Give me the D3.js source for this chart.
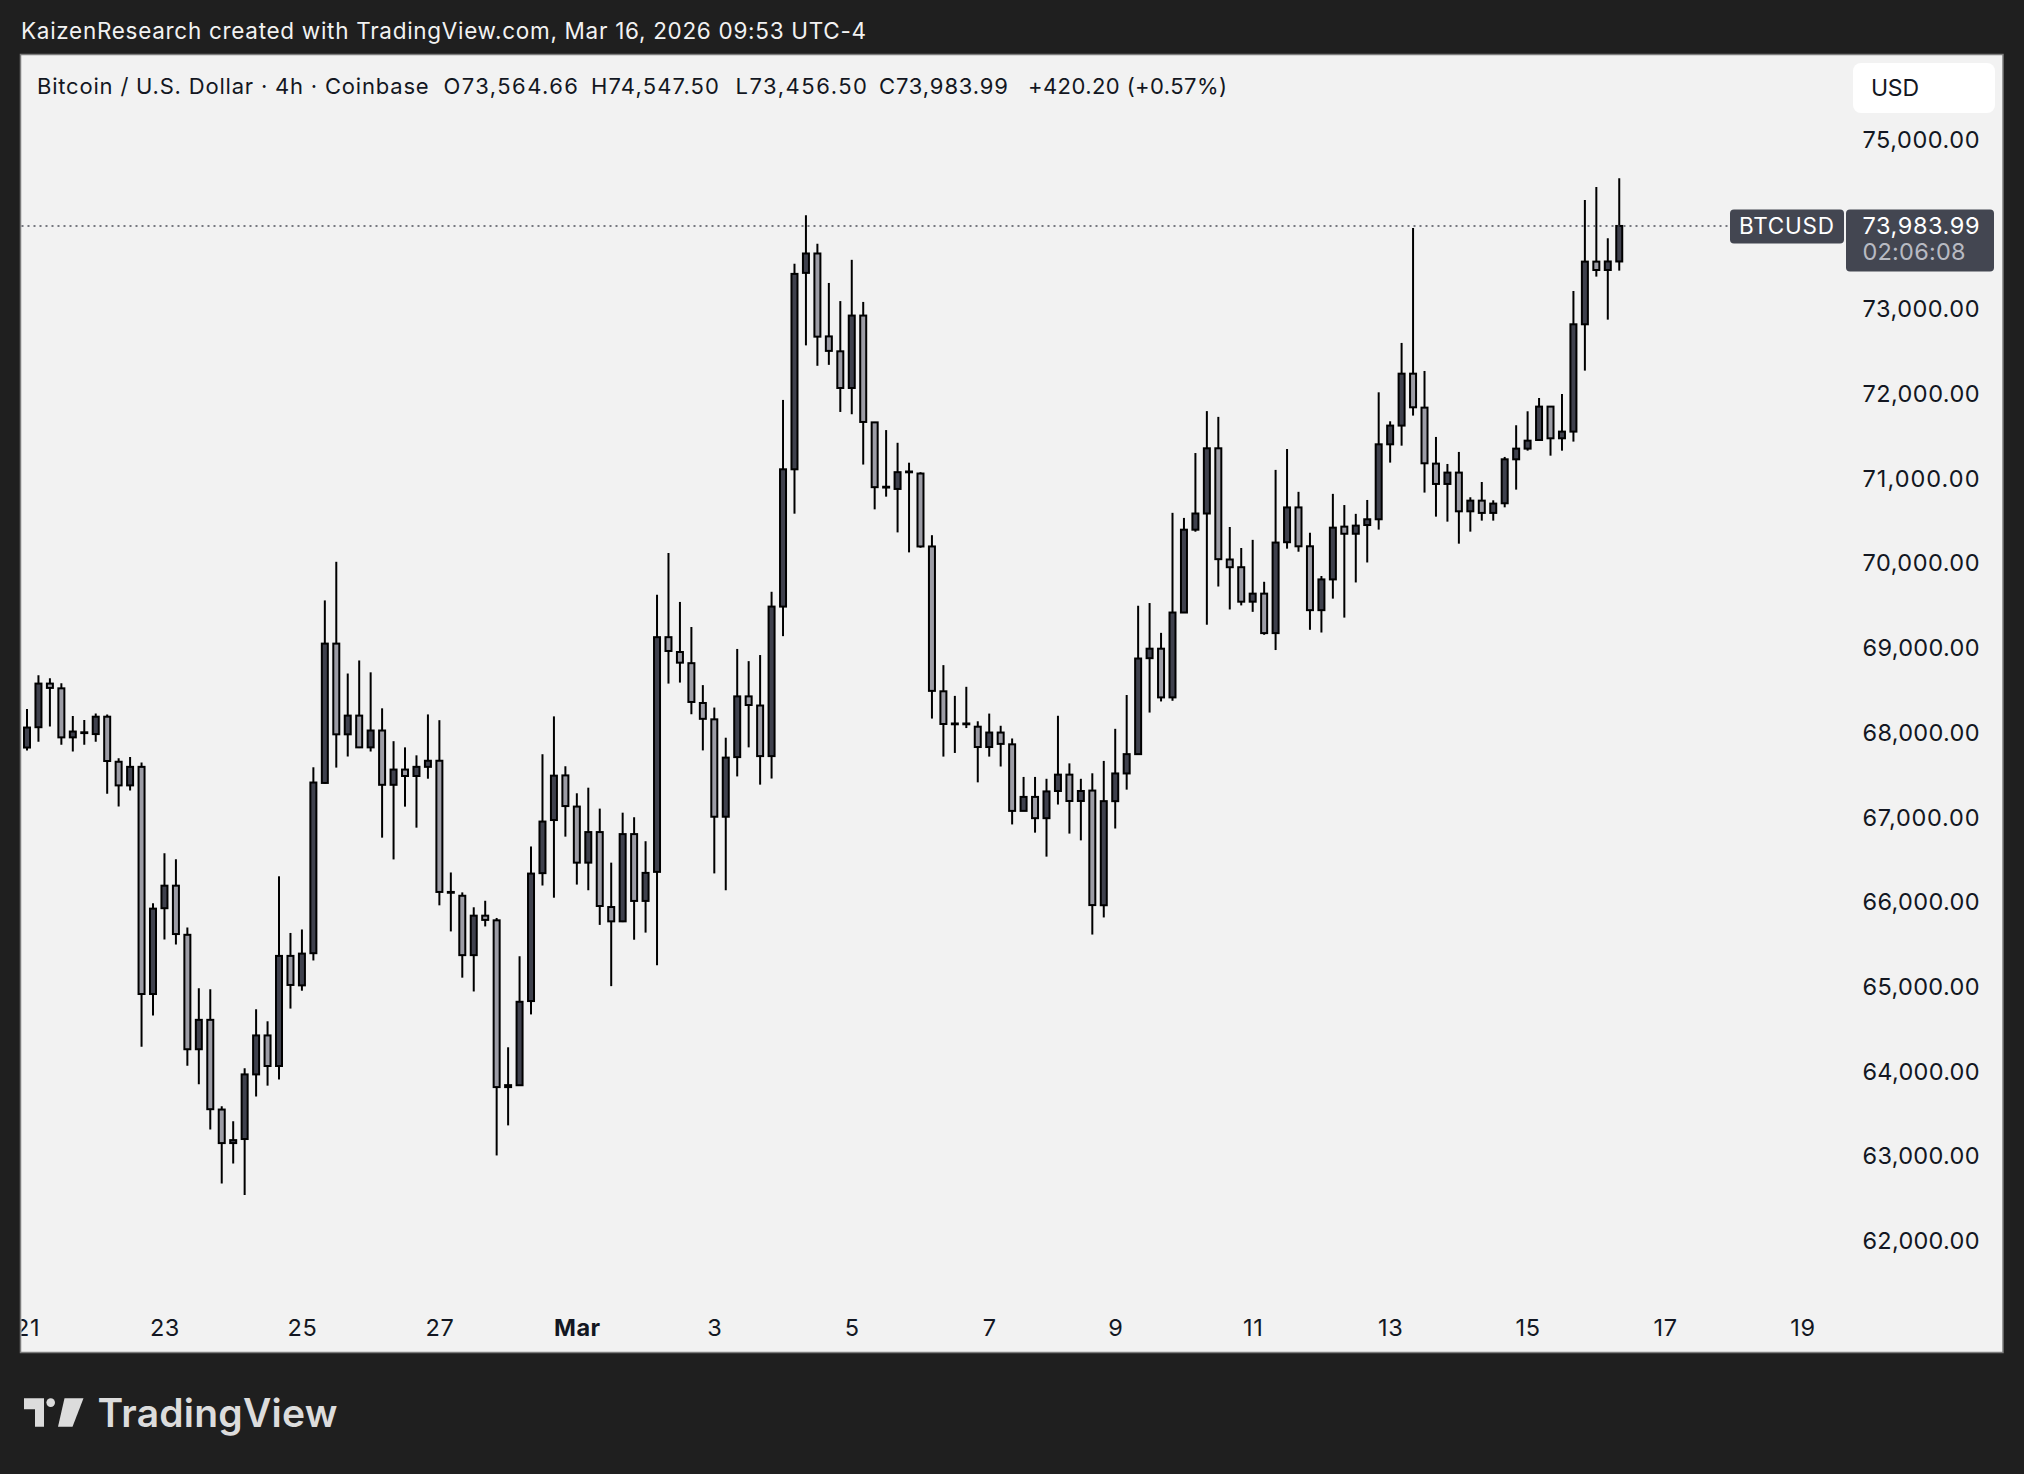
<!DOCTYPE html>
<html><head><meta charset="utf-8">
<script src="https://cdn.jsdelivr.net/npm/d3@7"></script>
<style>html,body{margin:0;padding:0;background:#1f1f1f;} svg{display:block;}</style>
</head><body>
<svg id="c" width="2024" height="1474"></svg>
<script>
// ---- data (4h candles, BTC/USD Coinbase, from Feb 21) ----
const opens = [67826,68066,68581,68525,67946,67997,67985,68190,67658,67379,67598,64916,65929,66195,65615,64264,64611,63552,63156,63204,
63967,64427,64066,65366,65018,65398,67408,69053,67982,68203,67828,68027,67386,67566,67490,67598,67670,66121,66076,65375,
65841,65786,63817,63839,64833,66343,66970,67497,67129,66467,66828,65943,65774,66804,66015,66358,69129,68954,68822,68352,
68159,67009,67713,68430,68322,67725,69490,71111,73430,73659,72680,72504,72071,72926,71665,70900,70879,71077,71061,70200,
68490,68104,68110,68072,67832,68003,67864,67078,67243,66992,67313,67506,67195,67318,65964,67193,67520,67748,68881,68993,
68418,69420,70398,70589,71359,70046,69955,69548,69643,69177,70250,70661,70202,69448,69811,70434,70350,70453,70521,71406,
71627,72240,71839,71178,70938,71072,70615,70741,70596,70710,71229,71355,71457,71851,71477,71556,72823,73563,73464,73564.66];
const highs = [68281,68680,68645,68585,68199,68152,68229,68216,67701,67714,67650,65989,66577,66508,65701,64985,64972,63590,63414,64040,
64736,64594,66306,65637,65678,67593,69563,70019,68700,68854,68714,68289,67901,67828,67734,68217,68149,66351,66116,65940,
66017,65814,64287,65362,66658,67747,68194,67605,67286,67352,67105,66467,67057,67003,66720,69629,70123,69545,69249,68563,
68298,67942,68990,68846,68918,69665,71930,73538,74110,73773,73311,73097,73584,73087,71670,71574,71424,71189,71077,70333,
68799,68436,68543,68136,68227,68083,67933,67479,67479,67457,68201,67639,67457,67522,67668,68047,68446,69500,69532,69180,
70597,70537,71303,71798,71730,70430,70182,70278,69783,71104,71351,70845,70362,69851,70821,70689,70585,70749,72020,71678,
72603,73960,72272,71493,71174,71316,70781,70961,70745,71257,71631,71796,71953,71851,72000,73216,74291,74444,73838,74547.5];
const lows = [67791,67894,68075,67860,67778,67860,67894,67281,67130,67319,64294,64663,65560,65500,64070,63851,63315,62680,62916,62543,
63706,63834,63907,64744,64955,65312,67400,67589,67720,67820,67779,66762,66505,67128,66880,67458,65963,65655,65109,64946,
65714,63010,63365,63830,64675,66197,66053,66774,66208,66141,65732,65009,65765,65557,65641,65256,68581,68593,68219,67792,
66340,66141,67485,67828,67388,67460,69141,70587,72574,72333,72344,71788,71761,71167,70638,70788,70366,70130,70185,68168,
67719,67762,68056,67415,67719,67602,66918,67078,66821,66538,67153,66810,66730,65618,65820,66870,67329,67748,68239,68370,
68378,69420,70374,69276,69727,69456,69504,69428,69157,68977,70174,70138,69216,69184,69584,69360,69775,70011,70399,71190,
71390,71745,70836,70552,70493,70233,70375,70505,70505,70662,70871,71331,71457,71272,71331,71438,72276,73386,72878,73456.5];
const closes = [68062,68581,68530,67946,68015,68006,68190,67667,67379,67598,64916,65924,66195,65624,64264,64611,63556,63156,63191,63967,
64427,64066,65366,65023,65393,67413,69053,67982,68203,67828,68027,67386,67566,67490,67598,67670,66121,66115,65375,65841,
65791,63817,63840,64824,66338,66952,67494,67135,66467,66828,65955,65774,66804,66015,66346,69129,68966,68828,68364,68165,
67009,67707,68430,68328,67725,69490,71111,73418,73659,72677,72509,72071,72926,71670,70900,70905,71077,71085,70200,68495,
68104,68110,68104,67832,68003,67869,67078,67243,66992,67308,67506,67195,67313,65966,67193,67520,67748,68877,68993,68418,
69420,70398,70589,71359,70050,69955,69548,69643,69177,70246,70661,70202,69448,69811,70422,70350,70446,70521,71406,71627,
72240,71843,71182,70938,71072,70615,70741,70596,70706,71229,71355,71449,71851,71477,71556,72823,73563,73464,73564.66,73983.99];

const tickLabels = ["21","23","25","27","Mar","3","5","7","9","11","13","15","17","19"];
const tickBars   = [0,12,24,36,48,60,72,84,95,107,119,131,143,155];
const priceTicks = [62000,63000,64000,65000,66000,67000,68000,69000,70000,71000,72000,73000,74000,75000];
const lastPrice = 73983.99;
const countdown = "02:06:08";
const symbolTag = "BTCUSD";
const currency = "USD";
const headerText = "KaizenResearch created with TradingView.com, Mar 16, 2026 09:53 UTC-4";
const legendTitle = "Bitcoin / U.S. Dollar · 4h · Coinbase";
const legendParts = ["O73,564.66","H74,547.50","L73,456.50","C73,983.99","+420.20 (+0.57%)"];

// ---- layout ----
const FONT = "Inter, 'Noto Sans', sans-serif";
const pane = {l:20.5, t:54.5, r:2003, b:1352.5};
const plotRight = 1845;
const svg = d3.select("#c");
const x = d3.scaleLinear().domain([0,160]).range([27, 27+160*11.455]);
const y = d3.scaleLinear().domain([62000,75000]).range([1241, 139.9]);

function fit(sel, w){
  sel.each(function(){
    const len = this.getComputedTextLength();
    const n = this.textContent.length;
    if (n > 1) d3.select(this).attr("letter-spacing", ((w - len)/(n - 1)).toFixed(3));
  });
  return sel;
}

svg.append("rect").attr("width",2024).attr("height",1474).attr("fill","#1f1f1f");
svg.append("rect").attr("x",pane.l).attr("y",pane.t).attr("width",pane.r-pane.l).attr("height",pane.b-pane.t)
  .attr("fill","#f2f2f2").attr("stroke","#7c7c7c").attr("stroke-width",1.5);

fit(svg.append("text").attr("x",21).attr("y",39).attr("fill","#f2f2f2").attr("font-family",FONT)
  .attr("font-size",22.5).text(headerText), 845);

const defs = svg.append("defs");
defs.append("clipPath").attr("id","plotclip").append("rect")
  .attr("x",pane.l+1).attr("y",pane.t+1).attr("width",plotRight-pane.l).attr("height",pane.b-pane.t-2);

// legend
const lg = svg.append("g").attr("font-family",FONT).attr("font-size",22).attr("fill","#131722");
const legendX = [37, 443.6, 591, 735.5, 879, 1028];
const legendW = [391.7, 134.4, 128, 131.5, 129, 199];
fit(lg.append("text").attr("x",legendX[0]).attr("y",94).text(legendTitle), legendW[0]);
legendParts.forEach((t,i)=> fit(lg.append("text").attr("x",legendX[i+1]).attr("y",94).text(t), legendW[i+1]));

// price axis
const yAxis = d3.axisRight(y).tickValues(priceTicks).tickFormat(d3.format(",.2f")).tickSize(0).tickPadding(0);
const ya = svg.append("g").attr("transform","translate(1862.5,0)").call(yAxis);
ya.select(".domain").remove();
fit(ya.selectAll("text").attr("font-family",FONT).attr("font-size",23.5).attr("fill","#131722").attr("dy","0.32em"), 117);

// x axis
const xaWrap = svg.append("g").attr("clip-path","url(#plotclip)");
const xAxis = d3.axisBottom(x).tickValues(tickBars).tickFormat((d,i)=>tickLabels[i]).tickSize(0).tickPadding(0);
const xa = xaWrap.append("g").attr("transform","translate(0,1319)").call(xAxis);
xa.select(".domain").remove();
xa.selectAll("text").attr("font-family",FONT).attr("font-size",23.5).attr("fill","#131722")
  .attr("letter-spacing",0.6)
  .attr("font-weight",(d,i)=>tickLabels[i]==="Mar"?700:400);

// candles
const candles = opens.map((o,i)=>({i, o, h:highs[i], l:lows[i], c:closes[i]}));
const cg = svg.append("g").attr("clip-path","url(#plotclip)");
cg.selectAll("line.wick").data(candles).join("line").attr("class","wick")
  .attr("x1",d=>x(d.i)).attr("x2",d=>x(d.i)).attr("y1",d=>y(d.h)).attr("y2",d=>y(d.l))
  .attr("stroke","#000").attr("stroke-width",2);
cg.selectAll("rect.body").data(candles).join("rect").attr("class","body")
  .attr("x",d=>x(d.i)-3).attr("width",6)
  .attr("y",d=>y(Math.max(d.o,d.c)))
  .attr("height",d=>Math.max(Math.abs(y(d.o)-y(d.c)),0.8))
  .attr("fill",d=>d.c>=d.o?"#3f414d":"#9c9ca5")
  .attr("stroke","#000").attr("stroke-width",2);

// last price line
const ly = y(lastPrice);
svg.append("line").attr("x1",pane.l+1).attr("x2",1730).attr("y1",ly).attr("y2",ly)
  .attr("stroke","#4e505a").attr("stroke-width",1.5).attr("stroke-dasharray","2,4");

// USD box
svg.append("rect").attr("x",1853).attr("y",63).attr("width",142).attr("height",50).attr("rx",8).attr("fill","#ffffff");
fit(svg.append("text").attr("x",1871).attr("y",96).attr("font-family",FONT).attr("font-size",23).attr("fill","#131722").text(currency), 48);

// tags
svg.append("rect").attr("x",1730).attr("y",ly-16.5).attr("width",114).attr("height",34).attr("rx",4).attr("fill","#434651");
fit(svg.append("text").attr("x",1739).attr("y",ly).attr("dy","0.35em").attr("font-family",FONT).attr("font-size",22.5)
  .attr("fill","#ffffff").text(symbolTag), 95);
svg.append("rect").attr("x",1846).attr("y",ly-16.5).attr("width",148).attr("height",62).attr("rx",4).attr("fill","#434651");
fit(svg.append("text").attr("x",1862.5).attr("y",ly).attr("dy","0.35em").attr("font-family",FONT).attr("font-size",23.5)
  .attr("fill","#ffffff").text(d3.format(",.2f")(lastPrice)), 117);
fit(svg.append("text").attr("x",1862.5).attr("y",ly+26).attr("dy","0.35em").attr("font-family",FONT).attr("font-size",23.5)
  .attr("fill","#b8bac2").text(countdown), 103);

// TradingView logo
const logo = svg.append("g").attr("fill","#dcdcdc");
logo.append("path").attr("d","M24,1398.3H44V1426.7H35V1409.3H24Z");
logo.append("circle").attr("cx",50.7).attr("cy",1402.6).attr("r",4.3);
logo.append("path").attr("d","M64.5,1398.3H83.5L72.5,1426.7H58Z");
fit(logo.append("text").attr("x",97.5).attr("y",1426.7).attr("font-family",FONT).attr("font-weight",600)
  .attr("font-size",39).text("TradingView"), 240);
</script>
</body></html>
